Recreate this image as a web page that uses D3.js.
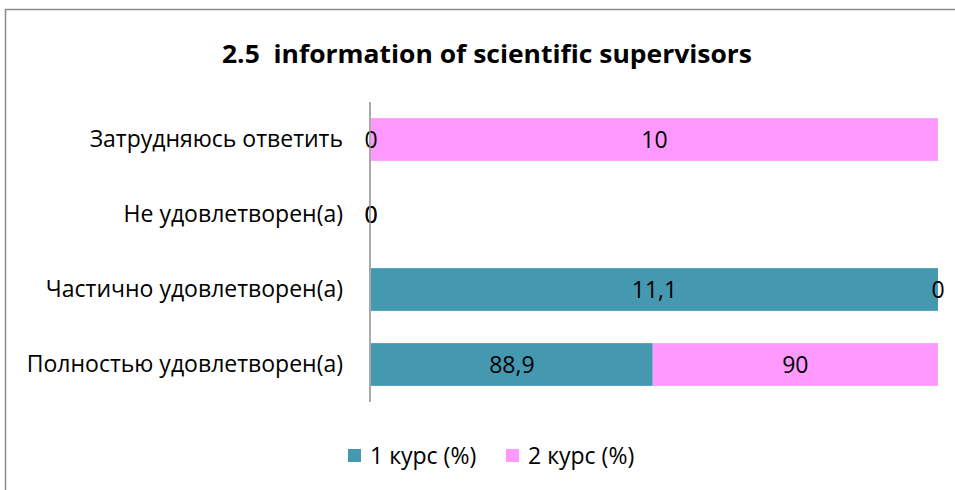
<!DOCTYPE html>
<html>
<head>
<meta charset="utf-8">
<script src="https://cdn.jsdelivr.net/npm/d3@7"></script>
<style>
  body { margin: 0; background: #fff; }
  text { font-family: "Open Sans", sans-serif; fill: #000; }
</style>
</head>
<body>
<div id="chart"></div>
<script>
// chart data
var categories = ["Затрудняюсь ответить", "Не удовлетворен(а)", "Частично удовлетворен(а)", "Полностью удовлетворен(а)"];
var seriesNames = ["1 курс (%)", "2 курс (%)"];
var course1 = [0, 0, 11.1, 88.9];
var course2 = [10, 0, 0, 90];
var colors = ["#4499b0", "#ff99ff"];

var width = 955, height = 490;

var svg = d3.select("#chart").append("svg")
  .attr("width", width)
  .attr("height", height);

// outer frame
svg.append("rect")
  .attr("x", 5.5).attr("y", 9.5)
  .attr("width", 960).attr("height", 490)
  .attr("fill", "none")
  .attr("stroke", "#8c8c8c")
  .attr("stroke-width", 1.5);

svg.append("text")
  .attr("x", 487).attr("y", 63)
  .attr("text-anchor", "middle")
  .attr("xml:space", "preserve")
  .style("white-space", "pre")
  .style("font-size", "25px")
  .style("font-weight", "bold")
  .attr("textLength", 530)
  .attr("lengthAdjust", "spacingAndGlyphs")
  .text("2.5  information of scientific supervisors");

var rows = categories.map(function(c, i) {
  return { cat: c, s0: course1[i], s1: course2[i] };
});

var stack = d3.stack().keys(["s0", "s1"]).offset(d3.stackOffsetExpand);
var layers = stack(rows);

var x = d3.scaleLinear().domain([0, 1]).range([371, 938]);
var y = d3.scaleBand().domain(categories).range([102, 402]).paddingInner(0.43).paddingOuter(0.215);

// bars
var g = svg.append("g");
layers.forEach(function(layer, li) {
  g.selectAll(".bar" + li)
    .data(layer)
    .enter().append("rect")
    .attr("x", function(d) { return x(d[0]); })
    .attr("y", function(d) { return y(d.data.cat); })
    .attr("width", function(d) { return Math.max(0, x(d[1]) - x(d[0])); })
    .attr("height", y.bandwidth())
    .attr("fill", colors[li]);
});

// value labels
layers.forEach(function(layer, li) {
  var vals = li == 0 ? course1 : course2;
  g.selectAll(".lab" + li)
    .data(layer)
    .enter().append("text")
    .attr("x", function(d) { return (x(d[0]) + x(d[1])) / 2; })
    .attr("y", function(d) { return y(d.data.cat) + y.bandwidth() / 2; })
    .attr("dy", "0.36em")
    .attr("text-anchor", "middle")
    .style("font-size", "23px")
    .text(function(d, i) { return String(vals[i]).replace(".", ","); });
});

// axis
var axis = svg.append("g")
  .attr("transform", "translate(370,0)")
  .call(d3.axisLeft(y).tickSize(0).tickPadding(27));
axis.select(".domain").attr("stroke", "#8c8c8c").attr("stroke-width", 1.5).attr("d", "M0,102V402");
axis.selectAll("text")
  .style("font-size", "23px")
  .style("font-family", "'Open Sans', sans-serif");

// legend
var legend = svg.append("g");
var legendX = [348, 506];
seriesNames.forEach(function(name, i) {
  legend.append("rect")
    .attr("x", legendX[i]).attr("y", 449)
    .attr("width", 13).attr("height", 13)
    .attr("fill", colors[i]);
  legend.append("text")
    .attr("x", legendX[i] + 22).attr("y", 464)
    .style("font-size", "23px")
    .text(name);
});
</script>
</body>
</html>
